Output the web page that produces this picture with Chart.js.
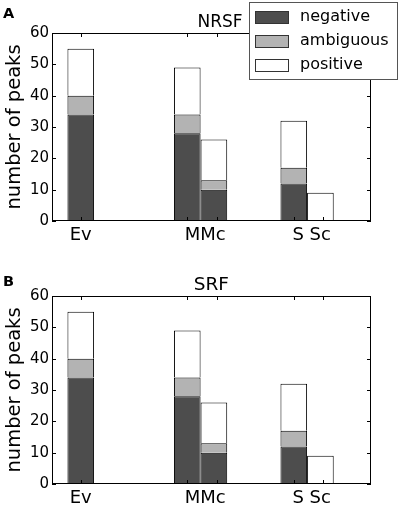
<!DOCTYPE html>
<html><head><meta charset="utf-8">
<script src="https://cdn.jsdelivr.net/npm/chart.js@4"></script>
<style>
html,body{margin:0;padding:0;background:#fff;width:400px;height:508px;overflow:hidden}
canvas{position:absolute;left:0;display:block}
</style></head><body>
<canvas id="cA" width="400" height="263" style="top:0;width:400px;height:263px"></canvas>
<canvas id="cB" width="400" height="245" style="top:263px;width:400px;height:245px"></canvas>
<script>
// ---- data (both panels show the same counts) ----
const categories = ["Ev", "MMc", "S Sc"];
const seriesNames = ["negative", "ambiguous", "positive"];
// first bar of each group (stacked segment sizes)
const negativeFirst  = [34, 28, 12];
const ambiguousFirst = [6, 6, 5];
const positiveFirst  = [15, 15, 15];
// second bar of each group (Ev has none)
const negativeSecond  = [null, 10, 0];
const ambiguousSecond = [null, 3, 0];
const positiveSecond  = [null, 13, 9];
const yTickValues = [0, 10, 20, 30, 40, 50, 60];
const panelTitles = ["NRSF", "SRF"];
const panelLetters = ["A", "B"];

// ---- styling / layout ----
const FONT = "'DejaVu Sans', 'Liberation Sans', sans-serif";
const seriesColors = ["#4d4d4d", "#b3b3b3", "#ffffff"];
const groupSpacing = 4;                    // bar slots between groups
const labelPositions = [0, 4.67, 8.67];    // where category names sit on the x axis
const xTickMarks = [0, 4, 5.1, 8, 9.1];    // small inward tick marks

function points(first, second) {
  const out = [];
  categories.forEach((c, i) => {
    if (first[i] != null) out.push({x: i * groupSpacing, y: first[i]});
    if (second[i] != null) out.push({x: i * groupSpacing + 1, y: second[i]});
  });
  return out;
}

const framePlugin = {
  id: 'frame',
  afterDatasetsDraw(chart, args, opts) {
    const ctx = chart.ctx, ca = chart.chartArea;
    const xs = chart.scales.x, ys = chart.scales.y;
    ctx.save();
    ctx.strokeStyle = '#000';
    ctx.lineWidth = 1;
    ctx.strokeRect(ca.left + 0.5, ca.top + 0.5, ca.width - 1, ca.height - 1);
    ctx.beginPath();
    yTickValues.forEach(v => {
      const py = Math.round(ys.getPixelForValue(v)) + 0.5;
      ctx.moveTo(ca.left, py); ctx.lineTo(ca.left + 4, py);
      ctx.moveTo(ca.right - 4, py); ctx.lineTo(ca.right, py);
    });
    xTickMarks.forEach(v => {
      const px = Math.round(xs.getPixelForValue(v)) + 0.5;
      ctx.moveTo(px, ca.top); ctx.lineTo(px, ca.top + 4);
      ctx.moveTo(px, ca.bottom - 4); ctx.lineTo(px, ca.bottom);
    });
    ctx.stroke();
    ctx.restore();
  },
  afterDraw(chart, args, opts) {
    const ctx = chart.ctx;
    ctx.save();
    ctx.fillStyle = '#000';
    // panel letter
    ctx.font = 'bold 14.5px ' + FONT;
    ctx.textAlign = 'left'; ctx.textBaseline = 'alphabetic';
    ctx.fillText(opts.letter, opts.letterX, opts.letterY);
    // title
    ctx.font = opts.titleSize + 'px ' + FONT;
    ctx.textAlign = 'center';
    ctx.fillText(opts.title, opts.titleX, opts.titleY);
    // legend
    if (opts.legend) {
      ctx.fillStyle = '#fff';
      ctx.fillRect(249.5, 2.5, 148, 77);
      ctx.strokeStyle = '#555';
      ctx.lineWidth = 1;
      ctx.strokeRect(249.5, 2.5, 148, 77);
      ctx.font = '16px ' + FONT;
      ctx.textAlign = 'left'; ctx.textBaseline = 'middle';
      chart.data.datasets.forEach((ds, i) => {
        const cy = 16.5 + i * 24.2;
        ctx.fillStyle = ds.backgroundColor;
        ctx.fillRect(255.5, Math.round(cy - 6) + 0.5, 33, 12);
        ctx.strokeStyle = '#333';
        ctx.strokeRect(255.5, Math.round(cy - 6) + 0.5, 33, 12);
        ctx.fillStyle = '#000';
        ctx.fillText(ds.label, 300, cy);
      });
    }
    ctx.restore();
  }
};

function makeChart(id, idx, xAxisHeight, frameOpts) {
  return new Chart(document.getElementById(id), {
    type: 'bar',
    data: {
      datasets: [
        {label: seriesNames[0], data: points(negativeFirst, negativeSecond), backgroundColor: seriesColors[0]},
        {label: seriesNames[1], data: points(ambiguousFirst, ambiguousSecond), backgroundColor: seriesColors[1]},
        {label: seriesNames[2], data: points(positiveFirst, positiveSecond), backgroundColor: seriesColors[2]}
      ]
    },
    options: {
      responsive: false,
      animation: false,
      devicePixelRatio: 1,
      layout: {padding: {top: 33, left: 0, right: 29, bottom: 0}},
      datasets: {bar: {borderColor: '#000', borderWidth: 1, borderSkipped: 'start',
                       barPercentage: 1, categoryPercentage: 1, inflateAmount: 0}},
      plugins: {legend: {display: false}, tooltip: {enabled: false}, frame: frameOpts},
      scales: {
        x: {
          type: 'linear', stacked: true, min: -1.08, max: 10.9, offset: false,
          grid: {display: false, drawTicks: false, tickLength: 0}, border: {display: false},
          afterBuildTicks: s => { s.ticks = labelPositions.map(v => ({value: v})); },
          ticks: {autoSkip: false, maxRotation: 0, minRotation: 0, color: '#000', padding: 3.5,
                  font: {family: FONT, size: 18},
                  callback: (v, i) => categories[i]},
          afterFit: s => { s.height = xAxisHeight; }
        },
        y: {
          stacked: true, min: 0, max: 60,
          grid: {display: false, drawTicks: false, tickLength: 0}, border: {display: false},
          afterBuildTicks: s => { s.ticks = yTickValues.map(v => ({value: v})); },
          ticks: {color: '#000', padding: 3, font: {family: FONT, size: 15}},
          title: {display: true, text: 'number of peaks', color: '#000',
                  font: {family: FONT, size: 19.5}, padding: {top: 3, bottom: 0}},
          afterFit: s => { s.width = 52; }
        }
      }
    },
    plugins: [framePlugin]
  });
}

makeChart('cA', 0, 42, {letter: panelLetters[0], letterX: 3, letterY: 18.3,
  title: panelTitles[0], titleSize: 17, titleX: 220, titleY: 27, legend: true});
makeChart('cB', 1, 24, {letter: panelLetters[1], letterX: 3, letterY: 23,
  title: panelTitles[1], titleSize: 18.5, titleX: 211.3, titleY: 27.3, legend: false});
</script>
</body></html>
